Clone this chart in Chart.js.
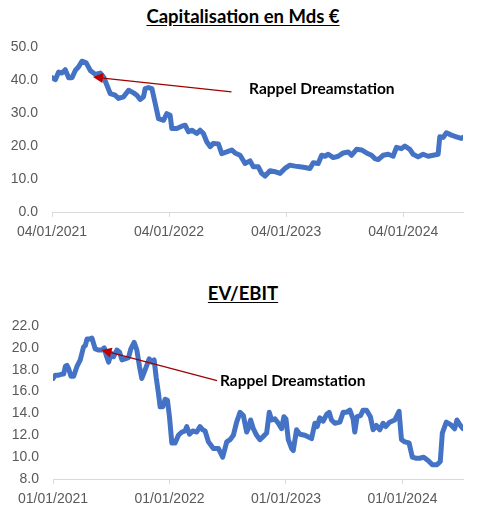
<!DOCTYPE html>
<html>
<head>
<meta charset="utf-8">
<script src="https://cdn.jsdelivr.net/npm/chart.js@4.4.1/dist/chart.umd.min.js"></script>
<style>
  body { margin:0; width:486px; height:513px; background:#fff; position:relative; overflow:hidden; }
  .box { position:absolute; left:0; width:486px; }
  .title { position:absolute; left:0; width:486px; text-align:center; font-family:Lato, "Liberation Sans", sans-serif;
           font-weight:bold; font-size:18.5px; color:#000; text-decoration:underline; text-underline-offset:2px; }
</style>
</head>
<body>
<div class="title" style="top:5px">Capitalisation en Mds €</div>
<div class="box" style="top:0;height:250px"><canvas id="capChart"></canvas></div>
<div class="title" style="top:282px">EV/EBIT</div>
<div class="box" style="top:270px;height:243px"><canvas id="evChart"></canvas></div>
<script>
// months since the first date on each axis
const yearTicks = [0, 12, 24, 36];
const capTickLabels = ["04/01/2021", "04/01/2022", "04/01/2023", "04/01/2024"];
const evTickLabels = ["01/01/2021", "01/01/2022", "01/01/2023", "01/01/2024"];

const capMonths = [0,0.34,0.68,1.02,1.36,1.71,2.05,2.39,2.73,3.07,3.51,3.92,4.44,4.95,5.29,5.63,5.97,6.48,6.82,7.34,
  7.85,8.36,8.70,9.04,9.38,9.55,9.89,10.24,10.58,10.92,11.43,11.77,12.11,12.28,12.79,13.31,13.65,13.99,14.33,14.84,
  15.18,15.52,15.86,16.21,16.55,17.06,17.40,17.91,18.42,18.76,19.28,19.79,20.30,20.64,21.15,21.49,21.84,22.35,22.86,23.37,
  23.88,24.39,24.91,25.42,25.93,26.44,26.78,27.29,27.64,27.98,28.32,28.83,29.34,29.85,30.37,30.71,31.22,31.73,32.24,32.75,
  33.09,33.44,33.95,34.46,34.97,35.31,35.82,36.17,36.68,37.02,37.53,38.04,38.55,39.07,39.58,39.75,40.09,40.43,40.94,41.45,
  41.96,42.13];
const capValues = [40.7,40.1,42.4,42.1,43.1,40.7,40.7,42.9,44.0,45.7,45.2,42.9,41.7,42.1,40.9,38.4,35.9,35.4,34.4,34.9,
  36.9,36.1,35.4,34.1,34.9,37.4,37.7,37.4,32.9,28.3,27.8,29.8,29.3,25.3,25.3,26.0,26.3,24.3,24.8,23.8,
  24.8,23.8,21.3,19.8,20.8,20.6,17.7,18.2,18.8,17.9,17.2,14.7,15.5,13.7,13.7,11.7,10.9,12.5,12.2,11.7,
  13.2,14.2,13.9,13.7,13.5,13.2,14.9,14.7,17.2,16.9,17.5,16.5,16.9,17.9,18.2,17.2,19.0,18.8,17.9,17.2,
  16.2,15.9,17.2,17.5,16.9,19.6,19.2,20.0,19.0,17.5,16.7,17.5,16.9,17.2,17.5,22.8,22.6,24.0,23.3,22.8,
  22.3,22.6];

const evMonths = [0,0.24,0.58,0.93,1.10,1.27,1.44,1.61,1.85,2.13,2.47,2.81,3.15,3.33,3.50,3.77,4.01,4.35,4.70,5.04,
  5.28,5.49,5.73,6.00,6.24,6.58,6.86,7.10,7.44,7.78,8.02,8.36,8.64,8.91,9.15,9.50,9.91,10.18,10.42,10.63,
  10.87,11.04,11.31,11.55,11.79,12.00,12.24,12.58,12.92,13.27,13.61,13.78,14.06,14.40,14.81,15.15,15.43,15.67,16.01,16.52,
  17.04,17.48,17.90,18.24,18.58,18.92,19.27,19.61,19.95,20.12,20.36,20.64,20.98,21.32,21.67,22.01,22.28,22.52,22.87,23.21,
  23.55,23.79,24.00,24.24,24.58,24.75,25.09,25.44,25.95,26.64,26.98,27.22,27.49,27.84,28.18,28.45,28.69,29.04,29.55,29.89,
  30.24,30.58,30.92,31.09,31.33,31.68,31.95,32.29,32.70,32.98,33.32,33.66,34.01,34.28,34.69,35.21,35.65,35.90,36.24,36.68,
  37.02,37.37,37.78,38.19,38.64,39.08,39.56,39.90,40.11,40.52,40.93,41.38,41.62,41.89,42.24];
const evValues = [17.2,17.5,17.5,17.6,17.6,18.3,18.4,18.1,17.4,17.4,18.3,18.9,20.1,20.2,20.8,20.8,20.9,19.9,19.8,19.8,
  20.0,19.3,18.7,19.5,19.2,19.8,19.6,18.9,19.0,19.1,19.9,20.5,19.8,18.3,17.2,18.0,19.0,18.7,18.9,17.3,
  15.8,14.6,14.6,15.3,15.2,13.7,11.3,11.3,12.0,12.3,12.4,12.8,12.1,12.4,12.3,12.8,12.5,12.4,11.4,10.8,
  10.8,10.0,11.4,11.6,12.0,13.2,14.1,13.8,12.3,12.6,13.4,12.6,12.0,11.6,11.9,12.2,14.1,13.4,13.5,13.1,
  12.6,13.7,13.5,11.6,10.8,10.6,12.5,12.1,12.0,11.7,13.1,12.8,13.6,13.3,13.9,14.1,13.4,13.1,13.2,14.1,
  14.1,14.3,13.5,12.3,13.7,13.8,14.3,14.3,13.7,12.5,12.9,12.5,13.1,12.8,13.2,13.4,14.2,11.6,11.4,11.3,
  10.0,9.9,9.9,10.0,9.7,9.3,9.3,9.6,12.2,13.2,13.0,12.6,13.4,13.0,12.6];

const capNote = { text: "Rappel Dreamstation", from: [18.4, 36.4], to: [4.2, 40.9], at: [20.2, 37.3] };
const evNote = { text: "Rappel Dreamstation", from: [16.9, 17.0], to: [5.0, 19.8], at: [17.2, 17.0] };

const arrowNote = {
  id: "arrowNote",
  afterDatasetsDraw(chart, args, o) {
    const { ctx, scales: { x, y } } = chart;
    const x1 = x.getPixelForValue(o.from[0]), y1 = y.getPixelForValue(o.from[1]);
    const x2 = x.getPixelForValue(o.to[0]), y2 = y.getPixelForValue(o.to[1]);
    const len = Math.hypot(x2 - x1, y2 - y1);
    const ux = (x2 - x1) / len, uy = (y2 - y1) / len;
    const bx = x2 - ux * 10, by = y2 - uy * 10;
    ctx.save();
    ctx.strokeStyle = "#a00000";
    ctx.lineWidth = 1.2;
    ctx.beginPath(); ctx.moveTo(x1, y1); ctx.lineTo(bx, by); ctx.stroke();
    ctx.fillStyle = "#c00000";
    ctx.beginPath();
    ctx.moveTo(x2, y2);
    ctx.lineTo(bx - uy * 5, by + ux * 5);
    ctx.lineTo(bx + uy * 5, by - ux * 5);
    ctx.closePath(); ctx.fill();
    ctx.fillStyle = "#000";
    ctx.font = "bold 15.5px Lato";
    ctx.textBaseline = "middle";
    ctx.fillText(o.text, x.getPixelForValue(o.at[0]), y.getPixelForValue(o.at[1]));
    ctx.restore();
  }
};

function makeChart(id, months, values, tickLabels, yMin, yMax, yStep, leftW, axisH, padTop, note) {
  return new Chart(document.getElementById(id), {
    type: "line",
    data: {
      datasets: [{
        data: months.map((m, i) => ({ x: m, y: values[i] })),
        borderColor: "#4472c4", borderWidth: 5, pointRadius: 0,
        tension: 0, borderJoinStyle: "round", borderCapStyle: "round"
      }]
    },
    options: {
      responsive: true, maintainAspectRatio: false, animation: false,
      layout: { padding: { top: padTop, right: 23, bottom: 0, left: 0 } },
      plugins: { legend: { display: false }, tooltip: { enabled: false }, arrowNote: note },
      scales: {
        x: {
          type: "linear", min: 0, max: months[months.length - 1],
          afterBuildTicks: s => { s.ticks = yearTicks.map(v => ({ value: v })); },
          afterFit: s => { s.height = axisH; },
          ticks: {
            autoSkip: false, maxRotation: 0, padding: 7, color: "#595959",
            font: { family: "Liberation Sans", size: 14 },
            callback: (v, i) => tickLabels[i]
          },
          grid: { drawOnChartArea: false, drawTicks: true, tickLength: 5, color: "#d9d9d9" },
          border: { display: true, color: "#d9d9d9" }
        },
        y: {
          min: yMin, max: yMax,
          afterFit: s => { s.width = leftW; },
          ticks: {
            stepSize: yStep, padding: 14, color: "#595959",
            font: { family: "Liberation Sans", size: 14 },
            callback: v => v.toFixed(1)
          },
          grid: { display: false, drawTicks: false },
          border: { display: false }
        }
      }
    },
    plugins: [arrowNote]
  });
}

makeChart("capChart", capMonths, capValues, capTickLabels, 0, 50, 10, 52, 38, 47, capNote);
makeChart("evChart", evMonths, evValues, evTickLabels, 8, 22, 2, 53, 34, 56, evNote);
</script>
</body>
</html>
